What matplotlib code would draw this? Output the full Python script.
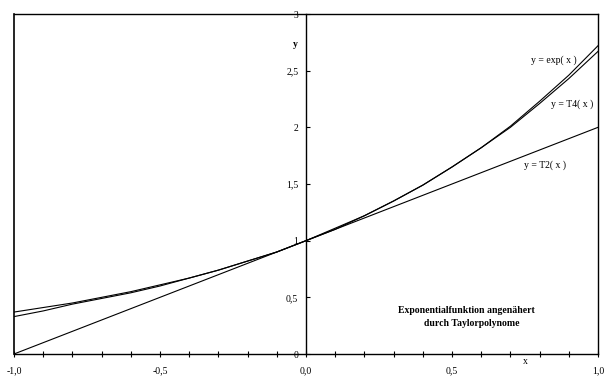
import numpy as np
import matplotlib.pyplot as plt

plt.rcParams["font.family"] = ["Liberation Serif", "DejaVu Serif"]
plt.rcParams["axes.unicode_minus"] = False

# values, x step 0.1
x_vals = [-1.0, -0.9, -0.8, -0.7, -0.6, -0.5, -0.4, -0.3, -0.2, -0.1, 0.0,
          0.1, 0.2, 0.3, 0.4, 0.5, 0.6, 0.7, 0.8, 0.9, 1.0]
y_exp = [0.37, 0.41, 0.45, 0.50, 0.55, 0.61, 0.67, 0.74, 0.82, 0.90, 1.00,
         1.11, 1.22, 1.35, 1.49, 1.65, 1.82, 2.01, 2.23, 2.46, 2.72]
y_t4 = [0.33, 0.38, 0.44, 0.49, 0.54, 0.60, 0.67, 0.74, 0.82, 0.90, 1.00,
        1.10, 1.22, 1.35, 1.49, 1.65, 1.82, 2.00, 2.21, 2.43, 2.67]
y_t2 = [0.00, 0.10, 0.20, 0.30, 0.40, 0.50, 0.60, 0.70, 0.80, 0.90, 1.00,
        1.10, 1.20, 1.30, 1.40, 1.50, 1.60, 1.70, 1.80, 1.90, 2.00]

x_ticks = [-1.0, -0.5, 0.0, 0.5, 1.0]
x_tick_labels = ["-1,0", "-0,5", "0,0", "0,5", "1,0"]
y_ticks = [0, 0.5, 1, 1.5, 2, 2.5, 3]
y_tick_labels = ["0", "0,5", "1", "1,5", "2", "2,5", "3"]

fig = plt.figure(figsize=(6.14, 3.83), dpi=100)
ax = fig.add_axes([14 / 614, 1 - 354 / 383, 584 / 614, 340 / 383])

lw = 0.8
ax.plot(x_vals, y_exp, color="black", linewidth=lw)
ax.plot(x_vals, y_t4, color="black", linewidth=lw)
ax.plot(x_vals, y_t2, color="black", linewidth=lw)

ax.set_xlim(-1, 1)
ax.set_ylim(0, 3)

# y axis through x = 0, left frame drawn separately
ax.spines["left"].set_position(("data", 0))
ax.axvline(-1, color="black", linewidth=1.2, clip_on=False)
for s in ["top", "right", "bottom", "left"]:
    ax.spines[s].set_linewidth(1.0)

ax.set_xticks(x_ticks)
ax.set_xticklabels(x_tick_labels)
ax.set_xticks(np.arange(-1.0, 1.01, 0.1), minor=True)
ax.set_yticks(y_ticks)
ax.set_yticklabels(y_tick_labels)

ax.tick_params(axis="x", which="both", direction="inout", length=5,
               width=0.8, labelsize=7, pad=6)
ax.tick_params(axis="y", which="both", direction="in", length=3,
               width=0.8, labelsize=7, pad=5.5)

ax.text(-0.035, 2.73, "y", fontsize=7, fontweight="bold",
        ha="center", va="center")
ax.text(0.75, -0.07, "x", fontsize=7, ha="center", va="center")

ax.text(0.85, 2.59, "y = exp( x )", fontsize=7, ha="center", va="center")
ax.text(0.91, 2.20, "y = T4( x )", fontsize=7, ha="center", va="center")
ax.text(0.82, 1.67, "y = T2( x )", fontsize=7, ha="center", va="center")

ax.text(0.55, 0.38, "Exponentialfunktion angenähert", fontsize=7,
        fontweight="bold", ha="center", va="center")
ax.text(0.567, 0.265, "durch Taylorpolynome", fontsize=7,
        fontweight="bold", ha="center", va="center")

fig.savefig("out.png", dpi=100)
